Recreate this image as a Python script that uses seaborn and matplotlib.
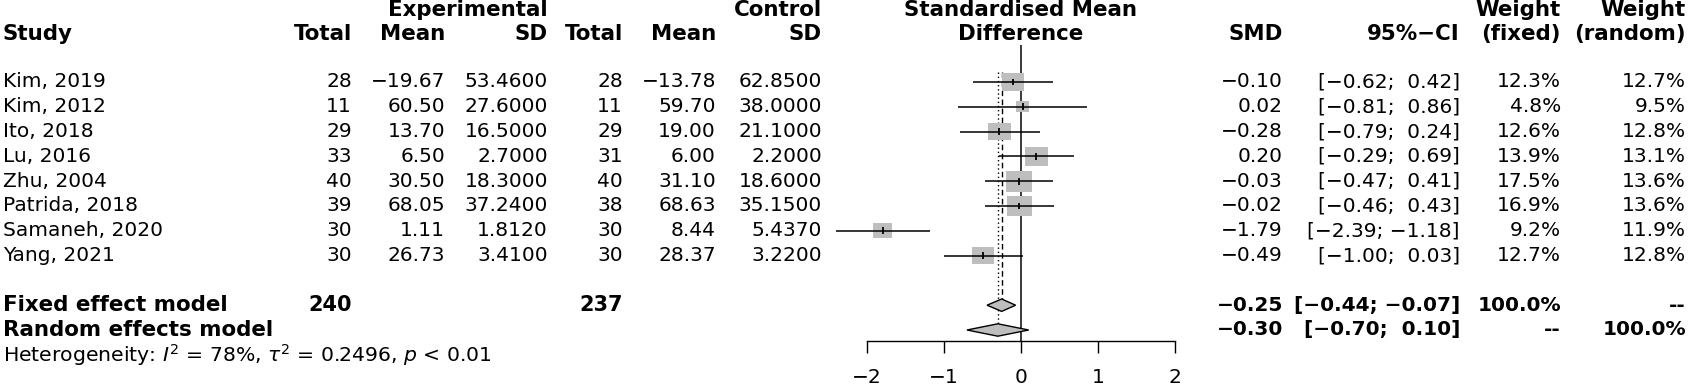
import matplotlib
matplotlib.use("Agg")
import matplotlib.pyplot as plt
import seaborn as sns
import pandas as pd
import numpy as np

# ---------------- data ----------------
studies = ["Kim, 2019", "Kim, 2012", "Ito, 2018", "Lu, 2016", "Zhu, 2004",
           "Patrida, 2018", "Samaneh, 2020", "Yang, 2021"]
exp_total = [28, 11, 29, 33, 40, 39, 30, 30]
exp_mean = [-19.67, 60.50, 13.70, 6.50, 30.50, 68.05, 1.11, 26.73]
exp_sd = [53.46, 27.60, 16.50, 2.70, 18.30, 37.24, 1.812, 3.41]
ctl_total = [28, 11, 29, 31, 40, 38, 30, 30]
ctl_mean = [-13.78, 59.70, 19.00, 6.00, 31.10, 68.63, 8.44, 28.37]
ctl_sd = [62.85, 38.00, 21.10, 2.20, 18.60, 35.15, 5.437, 3.22]
smd = [-0.10, 0.02, -0.28, 0.20, -0.03, -0.02, -1.79, -0.49]
ci_lower = [-0.62, -0.81, -0.79, -0.29, -0.47, -0.46, -2.39, -1.00]
ci_upper = [0.42, 0.86, 0.24, 0.69, 0.41, 0.43, -1.18, 0.03]
weight_fixed = [12.3, 4.8, 12.6, 13.9, 17.5, 16.9, 9.2, 12.7]
weight_random = [12.7, 9.5, 12.8, 13.1, 13.6, 13.6, 11.9, 12.8]

model_labels = ["Fixed effect model", "Random effects model"]
model_smd = [-0.25, -0.30]
model_lower = [-0.44, -0.70]
model_upper = [-0.07, 0.10]
model_wfixed = ["100.0%", "--"]
model_wrandom = ["--", "100.0%"]
total_exp = 240
total_ctl = 237
heterogeneity = r"Heterogeneity: $I^2$ = 78%, $\tau^2$ = 0.2496, $p$ < 0.01"
x_ticks = [-2, -1, 0, 1, 2]

# ---------------- style ----------------
sns.set_style("white")
plt.rcParams["font.family"] = ["DejaVu Sans"]
plt.rcParams["mathtext.fontset"] = "dejavusans"
FS = 14.5          # regular text
FSB = 15.4         # bold labels / headers
GRAY = "#BEBEBE"

W, H = 1689, 387
Y0, PITCH = 82.0, 24.8          # pixel y of first study row, row pitch
X0, UNIT = 1021.0, 77.2         # pixel x of SMD 0, pixels per SMD unit


def row_of(px):
    return (px - Y0) / PITCH


def v_of(px):
    return (px - X0) / UNIT


def fmt(v, d):
    return f"{v:.{d}f}".replace("-", "\u2212")


def fmt_ci(lo, hi):
    a = f"{lo:5.2f}".replace("-", "\u2212")
    b = f"{hi:5.2f}".replace("-", "\u2212")
    return f"[{a}; {b}]"


fig = plt.figure(figsize=(W / 100, H / 100), dpi=100)

# text layer (x in pixels, y in rows)
tax = fig.add_axes([0, 0, 1, 1])
tax.set_xlim(0, W)
tax.set_ylim(row_of(H), row_of(0))
tax.axis("off")

n = len(studies)
rows = list(range(n))
r_fixed, r_random, r_het = n + 1, n + 2, n + 3
h1, h2 = row_of(10), row_of(34)


def txt(x, y, s, ha="right", bold=False, size=None):
    if size is None:
        size = FSB if bold else FS
    tax.text(x, y, s, ha=ha, va="center", fontsize=size,
             fontweight="bold" if bold else "normal", color="black")


# headers
txt(548, h1, "Experimental", bold=True)
txt(822, h1, "Control", bold=True)
txt(1021, h1, "Standardised Mean", ha="center", bold=True)
txt(1561, h1, "Weight", bold=True)
txt(1686, h1, "Weight", bold=True)
txt(3, h2, "Study", ha="left", bold=True)
for x, s in [(352, "Total"), (445, "Mean"), (548, "SD"), (623, "Total"),
             (716, "Mean"), (822, "SD"), (1283, "SMD"), (1460, "95%\u2212CI"),
             (1561, "(fixed)"), (1686, "(random)")]:
    txt(x, h2, s, bold=True)
txt(1021, h2, "Difference", ha="center", bold=True)

# study rows
for i, r in enumerate(rows):
    txt(3, r, studies[i], ha="left")
    txt(352, r, str(exp_total[i]))
    txt(445, r, fmt(exp_mean[i], 2))
    txt(548, r, fmt(exp_sd[i], 4))
    txt(623, r, str(ctl_total[i]))
    txt(716, r, fmt(ctl_mean[i], 2))
    txt(822, r, fmt(ctl_sd[i], 4))
    txt(1283, r, fmt(smd[i], 2))
    txt(1460, r, fmt_ci(ci_lower[i], ci_upper[i]))
    txt(1561, r, f"{weight_fixed[i]:.1f}%")
    txt(1686, r, f"{weight_random[i]:.1f}%")

# model rows
for j, r in enumerate([r_fixed, r_random]):
    txt(3, r, model_labels[j], ha="left", bold=True)
    txt(1283, r, fmt(model_smd[j], 2), bold=True, size=FS)
    txt(1460, r, fmt_ci(model_lower[j], model_upper[j]), bold=True, size=FS)
    txt(1561, r, model_wfixed[j], bold=True, size=FS)
    txt(1686, r, model_wrandom[j], bold=True, size=FS)
txt(352, r_fixed, str(total_exp), bold=True, size=FS + 0.5)
txt(623, r_fixed, str(total_ctl), bold=True, size=FS + 0.5)
txt(3, r_het, heterogeneity, ha="left", size=14.7)

# ---------------- forest panel ----------------
AX_L, AX_R, AX_B = 800, 1200, 341
fax = fig.add_axes([AX_L / W, (H - AX_B) / H, (AX_R - AX_L) / W, AX_B / H])
fax.patch.set_alpha(0)

df = pd.DataFrame({"smd": smd, "row": rows, "w": weight_fixed})
K = (6.3 * 0.72) ** 2  # marker area (pt^2) per weight percent
rect = [(-0.635, -0.5), (0.635, -0.5), (0.635, 0.5), (-0.635, 0.5), (-0.635, -0.5)]
wmin, wmax = min(weight_fixed), max(weight_fixed)
sns.scatterplot(data=df, x="smd", y="row", size="w",
                sizes=(K * wmin, K * wmax), size_norm=(wmin, wmax),
                marker=rect, color=GRAY, edgecolor="none", linewidth=0,
                legend=False, ax=fax, zorder=2)

# confidence intervals and estimate ticks
fax.hlines(rows, ci_lower, ci_upper, color="black", lw=1.1, zorder=3)
fax.vlines(smd, np.array(rows) - 0.14, np.array(rows) + 0.14,
           color="black", lw=1.3, zorder=4)

# zero line and model lines
fax.vlines(0, row_of(45), row_of(AX_B), color="#3a3a3a", lw=1.4, zorder=1)
fax.vlines(model_smd[0], row_of(72), r_fixed - 0.25, color="black",
           lw=1.0, linestyles=(0, (4, 2.5)), zorder=1)
fax.vlines(model_smd[1], row_of(72), r_random - 0.25, color="black",
           lw=1.0, linestyles=(0, (1, 2)), zorder=1)

# diamonds
DH = 0.25
for j, r in enumerate([r_fixed, r_random]):
    xs = [model_lower[j], model_smd[j], model_upper[j], model_smd[j]]
    ys = [r, r - DH, r, r + DH]
    fax.fill(xs, ys, facecolor=GRAY, edgecolor="black", lw=1.0, zorder=3)

fax.set_xlim(v_of(AX_L), v_of(AX_R))
fax.set_ylim(row_of(AX_B), row_of(0))
fax.set_xlabel("")
fax.set_ylabel("")
fax.set_yticks([])
for side in ["left", "right", "top"]:
    fax.spines[side].set_visible(False)
fax.spines["bottom"].set_bounds(x_ticks[0], x_ticks[-1])
fax.spines["bottom"].set_linewidth(1.0)
fax.spines["bottom"].set_color("black")
fax.set_xticks(x_ticks)
fax.tick_params(axis="x", bottom=True, direction="out", length=8.6, width=1.0,
                pad=11, labelsize=FS, colors="black")

fig.savefig("out.png", dpi=100)
